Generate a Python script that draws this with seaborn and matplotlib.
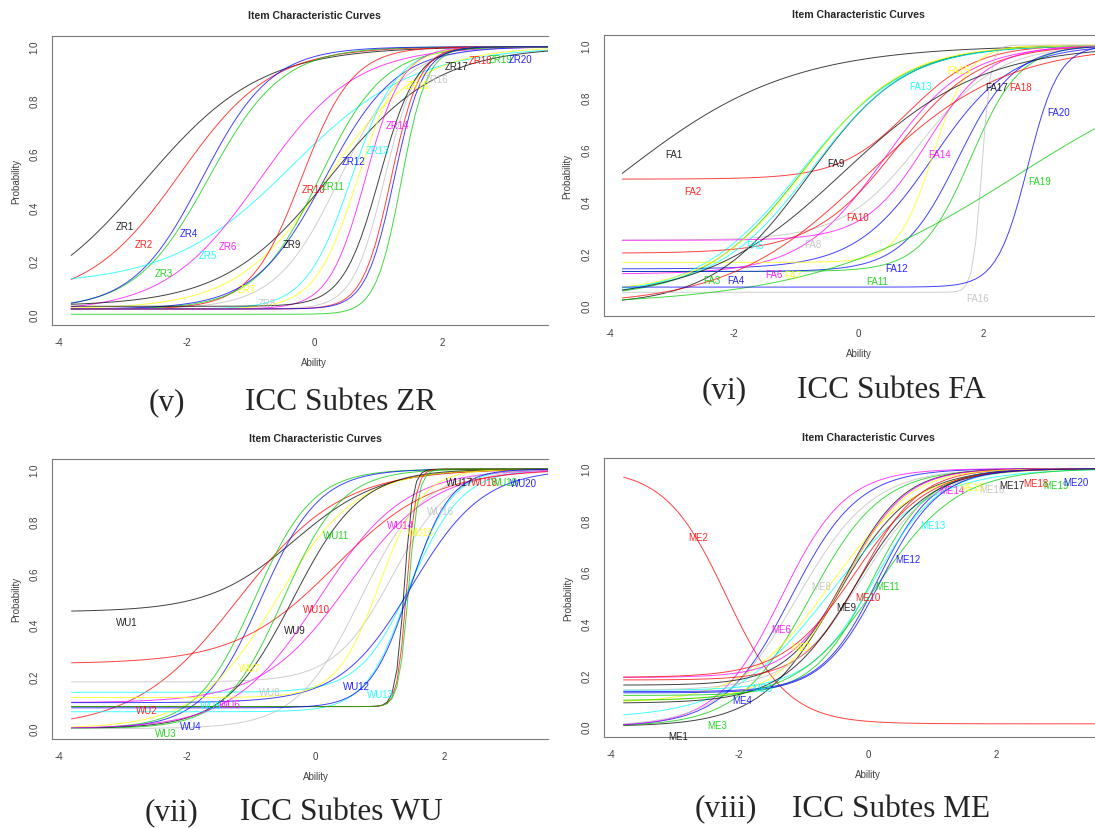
import numpy as np
import pandas as pd
import matplotlib
matplotlib.use("Agg")
import matplotlib.pyplot as plt
import seaborn as sns

W, H = 1095, 829

# ability grid used by ltm's plot (100 points from -3.8 to 3.8)
theta = np.linspace(-3.8, 3.8, 100)

# R's old default palette, items cycle through it
r_palette = ["black", "#FF0000", "#00CD00", "#0000FF",
             "#00FFFF", "#FF00FF", "#FFFF00", "#BEBEBE"]

# 3PL item parameters
# a = discrimination, b = difficulty, c = guessing (lower asymptote)
zr_items = [f"ZR{i}" for i in range(1, 21)]
zr_a = [1.1, 1.4, 1.75, 1.85, 1.05, 1.35, 1.4, 2.0, 1.2, 2.5,
        2.0, 1.8, 2.8, 3.5, 3.0, 4.0, 3.5, 4.5, 5.0, 4.5]
zr_b = [-2.65, -2.1, -1.65, -1.75, -0.35, -0.85, 0.2, 0.4, 0.25, -0.2,
        0.08, 0.17, 0.58, 0.8, 0.68, 1.1, 1.02, 1.2, 1.36, 1.25]
zr_c = [0.0, 0.05, 0.02, 0.02, 0.11, 0.01, 0.02, 0.02, 0.03, 0.02,
        0.02, 0.02, 0.02, 0.02, 0.02, 0.02, 0.03, 0.02, 0.0, 0.02]

fa_items = [f"FA{i}" for i in range(1, 21)]
fa_a = [0.73, 1.8, 1.25, 1.6, 1.2, 1.5, 3.5, 1.6, 1.3, 1.5,
        2.5, 2.2, 1.3, 2.0, 1.3, 14.0, 0.9, 0.9, 0.6, 4.0]
fa_b = [-3.84, 0.8, -0.9, 1.2, -0.93, 0.4, 1.2, 1.0, -0.8, 0.6,
        1.8, 1.6, -0.75, 1.1, -0.85, 1.98, -0.25, 0.13, 2.55, 2.72]
fa_c = [0.0, 0.485, 0.03, 0.14, 0.03, 0.12, 0.165, 0.25, 0.0, 0.2,
        0.13, 0.13, 0.05, 0.25, 0.05, 0.05, 0.02, 0.0, 0.0, 0.07]

wu_items = [f"WU{i}" for i in range(1, 21)]
wu_a = [1.5, 1.25, 2.2, 2.2, 2.5, 1.5, 1.6, 2.2, 1.9, 1.3,
        2.2, 1.8, 3.0, 1.5, 3.0, 2.0, 15.0, 14.0, 13.0, 3.2]
wu_b = [-0.33, -1.2, -0.95, -0.85, 1.5, 0.5, -0.6, 1.2, -0.35, 0.3,
        -0.5, 1.5, 1.45, 0.05, 1.0, 0.7, 1.38, 1.42, 1.45, 1.47]
wu_c = [0.45, 0.0, 0.0, 0.0, 0.14, 0.10, 0.0, 0.18, 0.0, 0.25,
        0.0, 0.1, 0.065, 0.0, 0.12, 0.0, 0.085, 0.085, 0.085, 0.08]

me_items = [f"ME{i}" for i in range(1, 21)]
me_a = [1.7, -2.1, 1.8, 1.9, 1.3, 2.0, 1.5, 1.7, 2.2, 2.2,
        2.2, 2.3, 2.0, 2.2, 2.0, 1.8, 1.8, 1.8, 1.6, 2.2]
me_b = [-0.5, -2.2, -0.9, -1.2, -0.6, -1.35, -0.6, -1.1, -0.35, -0.1,
        0.05, 0.15, 0.1, -0.3, -0.4, -0.1, -0.2, -0.2, 0.15, 0.2]
me_c = [0.0, 0.01, 0.0, 0.0, 0.03, 0.0, 0.09, 0.0, 0.16, 0.18,
        0.12, 0.135, 0.14, 0.19, 0.1, 0.14, 0.09, 0.19, 0.1, 0.13]


def icc(a, b, c):
    a, b, c = (np.asarray(v, float)[None, :] for v in (a, b, c))
    return c + (1 - c) / (1 + np.exp(-a * (theta[:, None] - b)))


def px_rect(left, top, right, bottom):
    return [left / W, 1 - bottom / H, (right - left) / W, (bottom - top) / H]


def draw_panel(fig, box, xmax, items, a, b, c, tag, caption, cap_pos):
    ax = fig.add_axes(px_rect(*box))
    prob = icc(a, b, c)
    df = pd.DataFrame(prob, columns=items)
    df["Ability"] = theta
    df = df.melt(id_vars="Ability", var_name="Item", value_name="Probability")
    colors = {it: r_palette[i % 8] for i, it in enumerate(items)}
    sns.lineplot(data=df, x="Ability", y="Probability", hue="Item",
                 hue_order=items, palette=colors, legend=False,
                 estimator=None, linewidth=0.7, alpha=0.75, ax=ax)

    # item labels: ltm puts them at evenly spaced grid points 10..90
    pos = np.round(np.linspace(10, 90, len(items))).astype(int) - 1
    for j, it in enumerate(items):
        ax.annotate(it, xy=(theta[pos[j]], prob[pos[j], j]), xytext=(0, -9),
                    textcoords="offset points", ha="left", va="center",
                    fontsize=7, color=colors[it], alpha=0.85)

    ax.set_xlim(-4.1, xmax)
    ax.set_ylim(-0.04, 1.04)
    ax.set_xticks([-4, -2, 0, 2])
    yt = np.arange(0, 1.01, 0.2)
    ax.set_yticks(yt)
    ax.set_yticklabels([f"{v:.1f}" for v in yt], rotation=90, va="center")
    ax.tick_params(direction="out", length=4, width=0.7, color="#707070",
                   labelsize=7, labelcolor="#404040", pad=5)
    for side in ["left", "top", "bottom"]:
        ax.spines[side].set_color("#7a7a7a")
        ax.spines[side].set_linewidth(0.8)
    ax.spines["right"].set_visible(False)

    h_px = box[3] - box[1]
    w_px = box[2] - box[0]
    xfrac = 4.1 / (xmax + 4.1)
    ax.set_xlabel("Ability", fontsize=7, color="#404040", va="center")
    ax.xaxis.set_label_coords(xfrac, -37 / h_px)
    ax.set_ylabel("Probability", fontsize=7, color="#404040", va="center")
    ax.yaxis.set_label_coords(-36 / w_px, 0.5)
    ax.annotate("Item Characteristic Curves", xy=(0, 1),
                xycoords=("data", "axes fraction"), xytext=(0, 15),
                textcoords="offset points", ha="center", va="center",
                fontsize=7.6, fontweight="bold")

    x_tag, x_cap, y_base = cap_pos
    for txt, x in [(tag, x_tag), (caption, x_cap)]:
        fig.text(x / W, 1 - y_base / H, txt, fontsize=22.5,
                 family=["Liberation Serif", "DejaVu Serif"],
                 ha="left", va="baseline")
    return ax


sns.set_style("white")
plt.rcParams["font.family"] = ["Liberation Sans", "DejaVu Sans"]
plt.rcParams["axes.unicode_minus"] = False

fig = plt.figure(figsize=(W / 100, H / 100), dpi=100)

draw_panel(fig, (52, 37, 548, 326), 3.65, zr_items, zr_a, zr_b, zr_c,
           "(v)", "ICC Subtes ZR", (148.3, 245, 410))
draw_panel(fig, (603.7, 35.7, 1095, 316.7), 3.80, fa_items, fa_a, fa_b, fa_c,
           "(vi)", "ICC Subtes FA", (701.7, 796.7, 398.3))
draw_panel(fig, (52.3, 459.7, 548, 740), 3.62, wu_items, wu_a, wu_b, wu_c,
           "(vii)", "ICC Subtes WU", (145, 240, 820))
draw_panel(fig, (604.3, 459.3, 1095, 737.7), 3.53, me_items, me_a, me_b, me_c,
           "(viii)", "ICC Subtes ME", (695, 791.7, 816.7))

fig.savefig("out.png", dpi=100)
